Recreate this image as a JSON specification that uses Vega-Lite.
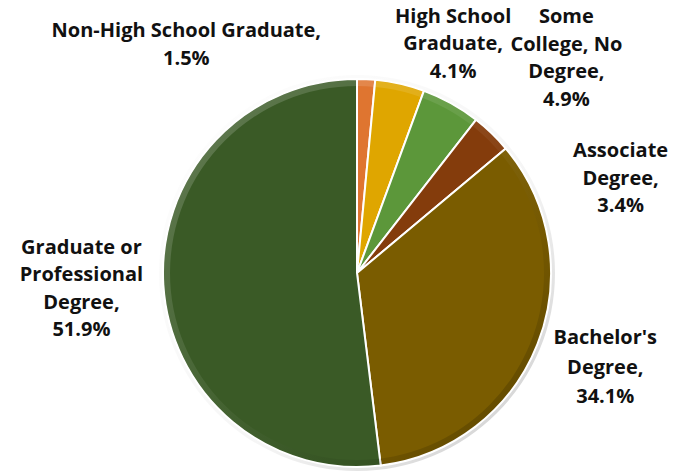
{
  "$schema": "https://vega.github.io/schema/vega-lite/v6.json",
  "width": 400,
  "height": 398,
  "autosize": "none",
  "padding": {"left": 157, "top": 74, "right": 133, "bottom": 0},
  "background": "white",
  "config": {
    "view": {"stroke": null},
    "text": {"font": "Open Sans", "fontWeight": "bold", "fontSize": 20, "lineHeight": 27.5, "color": "#111111", "align": "center", "baseline": "middle"}
  },
  "data": {
    "values": [
      {"category": "Non-High School Graduate", "value": 1.5, "order": 1, "label": ["Non-High School Graduate,", "1.5%"]},
      {"category": "High School Graduate", "value": 4.1, "order": 2, "label": ["High School", "Graduate,", "4.1%"]},
      {"category": "Some College, No Degree", "value": 4.9, "order": 3, "label": ["Some", "College, No", "Degree,", "4.9%"]},
      {"category": "Associate Degree", "value": 3.4, "order": 4, "label": ["Associate", "Degree,", "3.4%"]},
      {"category": "Bachelor's Degree", "value": 34.1, "order": 5, "label": ["Bachelor's", "Degree,", "34.1%"]},
      {"category": "Graduate or Professional Degree", "value": 51.9, "order": 6, "label": ["Graduate or", "Professional", "Degree,", "51.9%"]}
    ]
  },
  "transform": [
    {"stack": "value", "groupby": [], "sort": [{"field": "order"}], "as": ["v0", "v1"]},
    {"calculate": "(datum.v0 + datum.v1) / 2", "as": "mid"}
  ],
  "layer": [
    {
      "transform": [{"aggregate": [{"op": "count", "as": "n"}]}],
      "mark": {
        "type": "arc", "innerRadius": 193, "outerRadius": 198,
        "fill": {"gradient": "linear", "x1": 0, "y1": 0, "x2": 1, "y2": 1, "stops": [{"offset": 0, "color": "rgba(0,0,0,0)"}, {"offset": 0.6, "color": "rgba(0,0,0,0.04)"}, {"offset": 1, "color": "rgba(0,0,0,0.22)"}]}
      },
      "encoding": {"theta": {"datum": 0, "type": "quantitative"}, "theta2": {"datum": 99.9}}
    },
    {
      "mark": {"type": "arc", "outerRadius": 194, "stroke": "white", "strokeWidth": 2},
      "encoding": {
        "theta": {"field": "v0", "type": "quantitative", "scale": {"domain": [0, 99.9]}},
        "theta2": {"field": "v1"},
        "color": {
          "field": "category",
          "type": "nominal",
          "legend": null,
          "scale": {
            "domain": ["Non-High School Graduate", "High School Graduate", "Some College, No Degree", "Associate Degree", "Bachelor's Degree", "Graduate or Professional Degree"],
            "range": ["#DF7530", "#DFA600", "#5C973A", "#843C0C", "#7A5C00", "#3A5A26"]
          }
        }
      }
    },
    {
      "transform": [{"aggregate": [{"op": "count", "as": "n"}]}],
      "mark": {
        "type": "arc", "innerRadius": 187, "outerRadius": 193,
        "fill": {"gradient": "linear", "x1": 0, "y1": 0, "x2": 1, "y2": 1, "stops": [{"offset": 0, "color": "rgba(255,255,255,0.22)"}, {"offset": 0.5, "color": "rgba(255,255,255,0.05)"}, {"offset": 0.7, "color": "rgba(0,0,0,0.05)"}, {"offset": 1, "color": "rgba(0,0,0,0.28)"}]}
      },
      "encoding": {"theta": {"datum": 0, "type": "quantitative"}, "theta2": {"datum": 99.9}}
    },
    {"transform": [{"filter": "datum.order == 1"}], "mark": {"type": "text", "radius": 240, "dx": -182, "dy": -2}, "encoding": {"theta": {"field": "mid", "type": "quantitative"}, "text": {"field": "label"}}},
    {"transform": [{"filter": "datum.order == 2"}], "mark": {"type": "text", "radius": 240, "dx": 43, "dy": -22}, "encoding": {"theta": {"field": "mid", "type": "quantitative"}, "text": {"field": "label"}}},
    {"transform": [{"filter": "datum.order == 3"}], "mark": {"type": "text", "radius": 240, "dx": 93, "dy": -46}, "encoding": {"theta": {"field": "mid", "type": "quantitative"}, "text": {"field": "label"}}},
    {"transform": [{"filter": "datum.order == 4"}], "mark": {"type": "text", "radius": 240, "dx": 97, "dy": 51}, "encoding": {"theta": {"field": "mid", "type": "quantitative"}, "text": {"field": "label"}}},
    {"transform": [{"filter": "datum.order == 5"}], "mark": {"type": "text", "radius": 240, "dx": 25, "dy": -23, "lineHeight": 29.5}, "encoding": {"theta": {"field": "mid", "type": "quantitative"}, "text": {"field": "label"}}},
    {"transform": [{"filter": "datum.order == 6"}], "mark": {"type": "text", "radius": 240, "dx": -36, "dy": -40}, "encoding": {"theta": {"field": "mid", "type": "quantitative"}, "text": {"field": "label"}}}
  ]
}
